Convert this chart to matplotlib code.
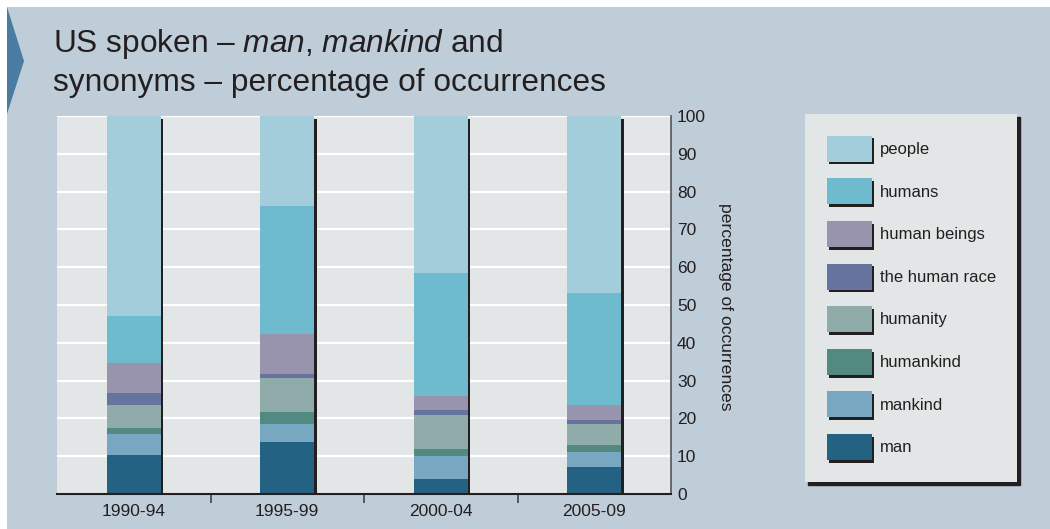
import numpy as np
import matplotlib
matplotlib.use("Agg")
import matplotlib.pyplot as plt
import matplotlib.patches as mpatches
import matplotlib.patheffects as pe


# --------------------------
# Data (percentage of occurrences)
# --------------------------
periods = ["1990-94", "1995-99", "2000-04", "2005-09"]

# stacked bottom -> top
series_names = ["man", "mankind", "humankind", "humanity",
                "the human race", "human beings", "humans", "people"]
man = [10.3, 13.8, 4.0, 7.1]
mankind = [5.6, 4.7, 6.1, 4.0]
humankind = [1.6, 3.2, 1.8, 1.8]
humanity = [6.0, 9.0, 9.0, 5.6]
human_race = [3.2, 1.0, 1.3, 1.1]
human_beings = [8.0, 10.6, 3.7, 3.9]
humans = [12.4, 33.9, 32.6, 29.7]
people = [52.9, 23.8, 41.5, 46.8]

series_values = [man, mankind, humankind, humanity,
                 human_race, human_beings, humans, people]
series_colors = ["#236282", "#78A7C1", "#528A82", "#8FACAA",
                 "#66739F", "#9894AD", "#6EBACF", "#A3CDDA"]

y_ticks = list(range(0, 101, 10))

# --------------------------
# Style
# --------------------------
W, H = 1050, 529
BG = "#BFCDD8"
PANEL = "#E2E6E6"
INK = "#231F20"
LABEL_SIZE = 12.5

plt.rcParams["font.family"] = ["Liberation Sans", "DejaVu Sans"]
plt.rcParams["mathtext.fontset"] = "custom"
plt.rcParams["mathtext.rm"] = "Liberation Sans"
plt.rcParams["mathtext.it"] = "Liberation Sans:italic"

shadow = [pe.SimplePatchShadow(offset=(2, -2), shadow_rgbFace=INK, alpha=1.0), pe.Normal()]


def fx(px):
    return px / W


def fy(py):
    return 1 - py / H


fig = plt.figure(figsize=(W / 100, H / 100), dpi=100, facecolor="white")

# panel background with a thin white margin on top/left
fig.add_artist(mpatches.Rectangle((fx(7), 0), 1 - fx(7), fy(7), transform=fig.transFigure,
                                  facecolor=BG, edgecolor="none", zorder=-10))
# marker arrow on the left edge
fig.add_artist(mpatches.Polygon([(fx(7), fy(7)), (fx(24), fy(61)), (fx(7), fy(114))],
                                closed=True, transform=fig.transFigure,
                                facecolor="#4A7BA0", edgecolor="none", zorder=-9))

# title
fig.text(fx(53), fy(52), r"US spoken – $\mathit{man}$, $\mathit{mankind}$ and",
         fontsize=22.8, color=INK, va="baseline", ha="left")
fig.text(fx(53), fy(91), "synonyms – percentage of occurrences",
         fontsize=22.8, color=INK, va="baseline", ha="left")

ax = fig.add_axes([fx(57), fy(494), fx(671) - fx(57), fy(116) - fy(494)])
ax.set_facecolor(PANEL)

x = np.arange(len(periods))
vals = np.array(series_values)
bottoms = np.vstack([np.zeros(len(periods)), np.cumsum(vals, axis=0)[:-1]])

# draw top segment first so lower segments hide the shadow seams
for i in reversed(range(len(series_names))):
    ax.bar(x, vals[i], bottom=bottoms[i], width=0.35, color=series_colors[i],
           edgecolor="none", path_effects=shadow, zorder=2)

ax.set_xlim(-0.5, len(periods) - 0.5)
ax.set_ylim(0, 100)

ax.yaxis.tick_right()
ax.yaxis.set_label_position("right")
ax.set_yticks(y_ticks)
ax.tick_params(axis="y", length=0, pad=4.3, labelsize=LABEL_SIZE, labelcolor=INK)
ax.yaxis.grid(True, color="white", linewidth=1.6)
ax.set_axisbelow(True)

ax.set_xticks(x)
ax.set_xticklabels(periods)
ax.set_xticks(x[:-1] + 0.5, minor=True)
ax.tick_params(axis="x", which="major", length=0, pad=7.5, labelsize=LABEL_SIZE, labelcolor=INK)
ax.tick_params(axis="x", which="minor", length=6.5, width=1.2, color="#444444", direction="out")

ax.set_ylabel("percentage of occurrences", rotation=270, fontsize=12.6, color=INK,
              va="center", ha="center")
ax.yaxis.set_label_coords((725 - 57) / 614, (494 - 307) / 378)

for side in ("left", "top"):
    ax.spines[side].set_visible(False)
ax.spines["bottom"].set_color(INK)
ax.spines["bottom"].set_linewidth(1.5)
ax.spines["right"].set_color("#555555")
ax.spines["right"].set_linewidth(1.2)

# legend, top entry first
handles = [mpatches.Patch(facecolor=series_colors[i], edgecolor="none",
                          label=series_names[i], path_effects=shadow)
           for i in reversed(range(len(series_names)))]
leg = fig.legend(handles=handles, loc="upper left", bbox_to_anchor=(fx(805), fy(114)),
                 borderaxespad=0, frameon=True, fancybox=False, facecolor=PANEL,
                 edgecolor="none", framealpha=1,
                 shadow={"color": INK, "alpha": 1.0},
                 prop={"size": 12},
                 handlelength=2.7, handleheight=2.02, handletextpad=0.48,
                 labelspacing=1.0, borderpad=1.3)
for t in leg.get_texts():
    t.set_color(INK)

fig.savefig("out.png", dpi=100, facecolor=fig.get_facecolor())
